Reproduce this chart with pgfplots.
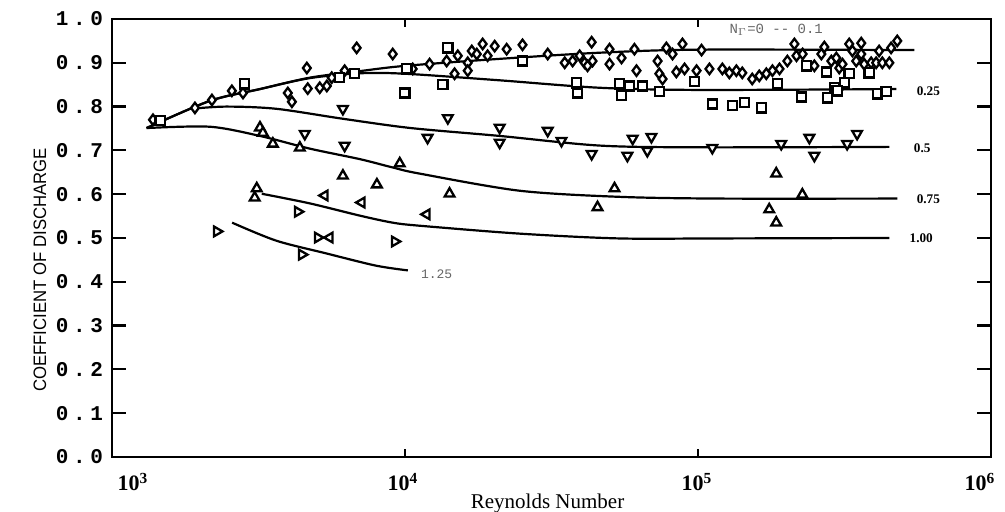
\documentclass[border=0pt]{standalone}
\usepackage{pgfplots}
\pgfplotsset{compat=1.18}
\usepackage{fontspec}
\setmainfont{Liberation Serif}
\newfontfamily\tickfont[LetterSpace=22]{Liberation Mono}
\newfontfamily\labfont{Liberation Sans}
\newfontfamily\monofont{Liberation Mono}
\begin{document}
\begin{tikzpicture}
\path[use as bounding box] (-56pt,-27.5pt) rectangle (446.5pt,228.5pt);
\begin{axis}[
  at={(0pt,0pt)}, anchor=south west,
  scale only axis, width=439.5pt, height=219pt,
  xmode=log, xmin=1000, xmax=1000000,
  ymin=0, ymax=1,
  clip mode=individual,
  xtick={1000,10000,100000,1000000}, xticklabels={},
  xminorticks=false,
  ytick={0,0.1,0.2,0.3,0.4,0.5,0.6,0.7,0.8,0.9,1.0},
  yticklabels={0.0,0.1,0.2,0.3,0.4,0.5,0.6,0.7,0.8,0.9,1.0},
  yticklabel style={font=\tickfont\bfseries\fontsize{10.5}{12}\selectfont, xshift=-1pt},
  tick align=inside,
  major tick length=7pt,
  xtick style={/pgfplots/major tick length=4pt},
  every tick/.style={black, line width=1.1pt},
  axis line style={line width=1.2pt},
  dia/.style={only marks, mark=diamond*, mark size=2.6pt, mark options={fill=white, draw=black, line width=1.15pt}},
  sq/.style={only marks, mark=square*, mark size=2.3pt, mark options={fill=white, draw=black, line width=1.15pt}},
  tdown/.style={only marks, mark=triangle*, mark size=2.8pt, mark options={rotate=180, fill=white, draw=black, line width=1.15pt}},
  tup/.style={only marks, mark=triangle*, mark size=2.8pt, mark options={fill=white, draw=black, line width=1.15pt}},
  tleft/.style={only marks, mark=triangle*, mark size=2.8pt, mark options={rotate=90, fill=white, draw=black, line width=1.15pt}},
  tright/.style={only marks, mark=triangle*, mark size=2.8pt, mark options={rotate=-90, fill=white, draw=black, line width=1.15pt}},
  crv/.style={black, line width=1.1pt, smooth, no marks},
]
% curves
\addplot[crv] coordinates {(1312,0.751) (2158,0.813) (3199,0.840) (4732,0.866) (7015,0.881) (10000,0.893) (21040,0.909) (46130,0.923) (101200,0.930) (547000,0.929)};
\addplot[crv] coordinates {(1312,0.751) (2158,0.813) (3199,0.840) (4732,0.865) (7015,0.876) (10000,0.875) (21040,0.860) (46130,0.843) (101200,0.838) (475000,0.840)};
\addplot[crv] coordinates {(1862,0.795) (2455,0.800) (3631,0.795) (6166,0.772) (10470,0.751) (21040,0.733) (46130,0.711) (101200,0.707) (449800,0.708)};
\addplot[crv] coordinates {(1312,0.751) (2158,0.754) (3199,0.733) (4732,0.704) (7015,0.680) (9078,0.661) (11220,0.647) (24550,0.608) (53700,0.594) (117500,0.590) (478600,0.590)};
\addplot[crv] coordinates {(3243,0.601) (4732,0.579) (7015,0.551) (9078,0.535) (11220,0.528) (24550,0.510) (53700,0.499) (117500,0.499) (449800,0.500)};
\addplot[crv] coordinates {(2570,0.535) (3631,0.494) (5370,0.465) (7943,0.437) (10230,0.426)};
% data points
\addplot[dia] coordinates {(1380,0.770) (1919,0.797) (2193,0.815) (2565,0.836) (2799,0.831) (3981,0.831) (4111,0.811) (4624,0.888) (4656,0.841) (5117,0.843) (5408,0.847) (5623,0.866) (6223,0.882) (6839,0.934) (9078,0.920)
(10620,0.886) (12130,0.897) (13870,0.904) (15140,0.916) (16370,0.900) (16900,0.927) (17580,0.920) (18410,0.943) (19140,0.916) (20230,0.938) (22230,0.931) (25180,0.941) (14760,0.875) (16370,0.882) (30690,0.920) (35080,0.900) (37330,0.904) (39450,0.916) (41020,0.900) (41980,0.893) (43650,0.904) (43350,0.947) (49890,0.931) (49890,0.897) (54830,0.911) (60670,0.931) (61660,0.882) (72780,0.904) (73790,0.875) (75680,0.863) (77980,0.934) (81850,0.920) (84330,0.879) (88510,0.943) (89950,0.886) (98860,0.882)
(102800,0.929) (109400,0.886) (121100,0.886) (127900,0.877) (135200,0.882) (141600,0.877) (153100,0.863) (161800,0.870) (171000,0.875) (179500,0.882) (189700,0.886) (201800,0.904) (213300,0.943) (216800,0.916) (227500,0.920) (249500,0.893) (263600,0.920) (269800,0.936) (285100,0.904) (296500,0.911) (303400,0.888) (311200,0.897) (328100,0.943) (336500,0.927) (346700,0.904) (360600,0.945) (360600,0.920) (369000,0.897) (389900,0.900) (405500,0.900) (415000,0.927) (425600,0.900) (449800,0.900) (456000,0.934) (478600,0.950)};
\addplot[sq] coordinates {(1459,0.768) (2838,0.852) (5984,0.866) (6730,0.875) (10140,0.886) (9980,0.831) (14000,0.934) (13460,0.850) (25180,0.904) (38460,0.854) (38820,0.831) (53950,0.852) (58340,0.847) (54830,0.825) (64570,0.847) (73790,0.834) (97270,0.857) (111900,0.806) (130900,0.802) (143900,0.809) (164400,0.797) (186600,0.852) (234400,0.893) (225400,0.822) (274200,0.879) (276700,0.820) (316200,0.854) (328100,0.875) (291700,0.843) (298500,0.836) (383700,0.877) (409300,0.829) (438500,0.834)};
\addplot[tdown] coordinates {(6138,0.795) (4550,0.738) (6223,0.711) (14000,0.774) (11940,0.729) (21040,0.752) (21040,0.718) (30690,0.745) (34200,0.722) (43350,0.692) (57410,0.688) (67140,0.699) (59840,0.727) (69340,0.731) (111900,0.706) (192300,0.715) (239900,0.729) (249500,0.688) (322800,0.715) (349100,0.738)};
\addplot[tup] coordinates {(3199,0.752) (3273,0.740) (3540,0.715) (4375,0.706) (9594,0.670) (6138,0.642) (8017,0.622) (3119,0.613) (3069,0.592) (14190,0.601) (51880,0.613) (45390,0.570) (184900,0.647) (227000,0.599) (175000,0.565) (184900,0.535)};
\addplot[tleft] coordinates {(5321,0.597) (7112,0.581) (11860,0.554) (5534,0.501)};
\addplot[tright] coordinates {(4305,0.560) (2280,0.515) (5035,0.501) (9226,0.492) (4446,0.462)};
% curve labels
\node[font=\bfseries\fontsize{6.6}{7}\selectfont] at (axis cs:611000,0.836) {0.25};
\node[font=\bfseries\fontsize{6.6}{7}\selectfont] at (axis cs:582000,0.704) {0.5};
\node[font=\bfseries\fontsize{6.6}{7}\selectfont] at (axis cs:611000,0.588) {0.75};
\node[font=\bfseries\fontsize{6.6}{7}\selectfont] at (axis cs:578000,0.499) {1.00};
\node[font=\monofont\fontsize{6.5}{7}\selectfont, text=black!60] at (axis cs:12820,0.417) {1.25};
\node[font=\monofont\fontsize{7}{8}\selectfont, text=black!60] at (axis cs:184900,0.975) {N$_\Gamma$=0 -- 0.1};
% x tick labels
\node[anchor=base, yshift=-17pt, font=\bfseries\fontsize{11}{12}\selectfont] at (axis description cs:0.0239,0) {10\textsuperscript{3}};
\node[anchor=base, yshift=-17pt, font=\bfseries\fontsize{11}{12}\selectfont] at (axis description cs:0.3311,0) {10\textsuperscript{4}};
\node[anchor=base, yshift=-17pt, font=\bfseries\fontsize{11}{12}\selectfont] at (axis description cs:0.6655,0) {10\textsuperscript{5}};
\node[anchor=base, yshift=-17pt, font=\bfseries\fontsize{11}{12}\selectfont] at (axis description cs:0.9874,0) {10\textsuperscript{6}};
\node[anchor=base, yshift=-26pt, font=\fontsize{10.5}{12}\selectfont] at (axis description cs:0.4955,0) {Reynolds Number};
\end{axis}
\node[rotate=90, font=\labfont\fontsize{9}{10}\selectfont] at (-36pt,93.5pt) {\scalebox{0.93}[1]{COEFFICIENT OF DISCHARGE}};
\end{tikzpicture}
\end{document}
